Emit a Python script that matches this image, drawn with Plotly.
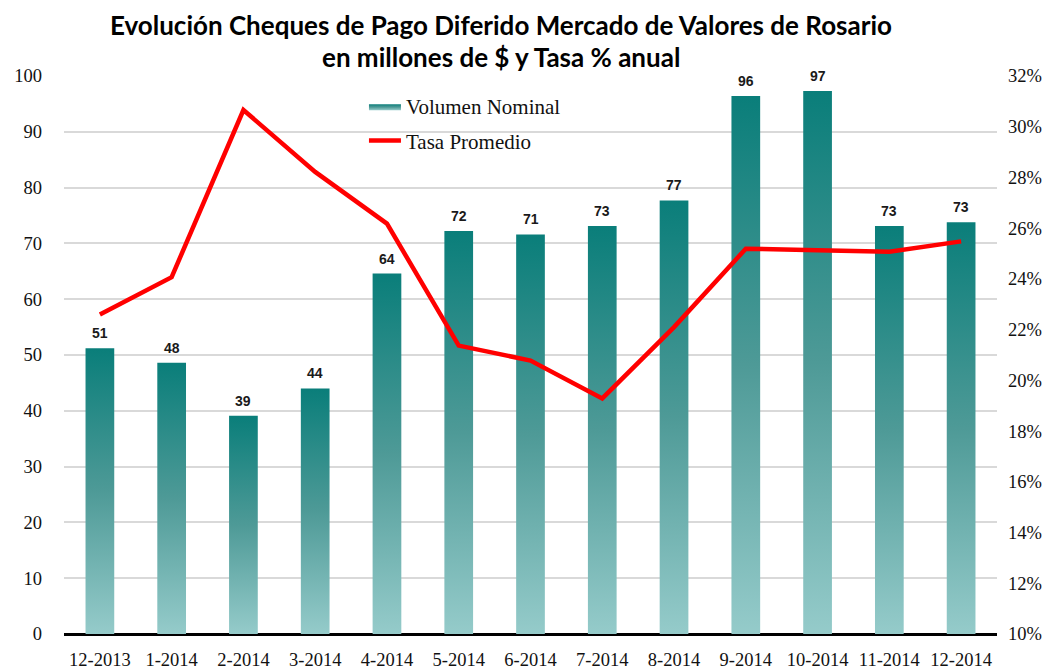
import plotly.graph_objects as go

categories = ["12-2013", "1-2014", "2-2014", "3-2014", "4-2014", "5-2014", "6-2014",
              "7-2014", "8-2014", "9-2014", "10-2014", "11-2014", "12-2014"]
volumen = [51.2, 48.6, 39.1, 44.0, 64.6, 72.2, 71.6, 73.1, 77.7, 96.4, 97.3, 73.1, 73.8]
volumen_labels = ["51", "48", "39", "44", "64", "72", "71", "73", "77", "96", "97", "73", "73"]
tasa = [0.226, 0.2407, 0.3066, 0.2822, 0.2618, 0.2137, 0.2078, 0.1929, 0.221,
        0.2519, 0.2513, 0.2507, 0.2548]

left_ticks = list(range(0, 101, 10))
right_ticks = [0.10, 0.12, 0.14, 0.16, 0.18, 0.20, 0.22, 0.24, 0.26, 0.28, 0.30, 0.32]

TITLE_LINE1 = "<b>Evolución Cheques de Pago Diferido Mercado de Valores de Rosario</b>"
TITLE_LINE2 = "<b>en millones de $ y Tasa % anual</b>"

half_w = 0.2
fig = go.Figure()

for i, v in enumerate(volumen):
    fig.add_trace(go.Scatter(
        x=[i - half_w, i - half_w, i + half_w, i + half_w, i - half_w],
        y=[0, v, v, 0, 0],
        mode="lines",
        line=dict(width=0, color="rgba(0,0,0,0)"),
        fill="toself",
        fillgradient=dict(type="vertical",
                          colorscale=[[0, "#95cbca"], [0.5, "#4e9a97"], [1, "#0a7e7a"]]),
        name="Volumen Nominal",
        legendgroup="a",
        showlegend=(i == 0),
        hoverinfo="skip",
    ))

fig.add_trace(go.Scatter(
    x=list(range(len(categories))), y=tasa, yaxis="y2",
    mode="lines", line=dict(color="#ff0000", width=4.5),
    name="Tasa Promedio", legendgroup="b",
))

tick_font = dict(family="Liberation Serif, serif", size=18.5, color="#111")
title_font = dict(family="Lato, Open Sans, sans-serif", size=26, color="#000000")

annotations = [
    dict(text=TITLE_LINE1, xref="paper", yref="paper", x=0.468, y=1.0,
         xanchor="center", yanchor="bottom", yshift=33, showarrow=False, font=title_font),
    dict(text=TITLE_LINE2, xref="paper", yref="paper", x=0.468, y=1.0,
         xanchor="center", yanchor="bottom", yshift=1, showarrow=False, font=title_font),
]
for i, (v, lab) in enumerate(zip(volumen, volumen_labels)):
    annotations.append(dict(
        text="<b>" + lab + "</b>", x=i, y=v, xref="x", yref="y",
        xanchor="center", yanchor="bottom", yshift=5, showarrow=False,
        font=dict(family="Liberation Sans, Arial", size=14, color="#1a1a1a"),
    ))

fig.update_layout(
    width=1045, height=660,
    margin=dict(l=56, r=56, t=68, b=34, autoexpand=False),
    paper_bgcolor="white", plot_bgcolor="white",
    xaxis=dict(
        range=[-0.5, 12.5], automargin=False,
        tickmode="array", tickvals=list(range(len(categories))), ticktext=categories,
        showgrid=False, zeroline=False,
        showline=False, ticks="",
        ticklabelstandoff=12,
        tickfont=tick_font,
    ),
    yaxis=dict(
        range=[0, 100], tickmode="array", tickvals=left_ticks, automargin=False,
        showgrid=True, gridcolor="#d9d9d9", gridwidth=1.5,
        zeroline=True, zerolinecolor="#000000", zerolinewidth=3,
        showline=False, ticks="",
        ticklabelstandoff=21,
        tickfont=tick_font,
    ),
    yaxis2=dict(
        range=[0.10, 0.32], overlaying="y", side="right", automargin=False,
        tickmode="array", tickvals=right_ticks, tickformat=".0%",
        showgrid=False, zeroline=False, showline=False, ticks="",
        ticklabelstandoff=10,
        tickfont=tick_font,
    ),
    legend=dict(
        x=0.3215, y=0.982, xanchor="left", yanchor="top",
        bgcolor="rgba(0,0,0,0)", tracegroupgap=4, itemwidth=32,
        font=dict(family="Liberation Serif, serif", size=21, color="#111"),
    ),
    showlegend=True,
    annotations=annotations,
)

fig.write_html("out.html")
